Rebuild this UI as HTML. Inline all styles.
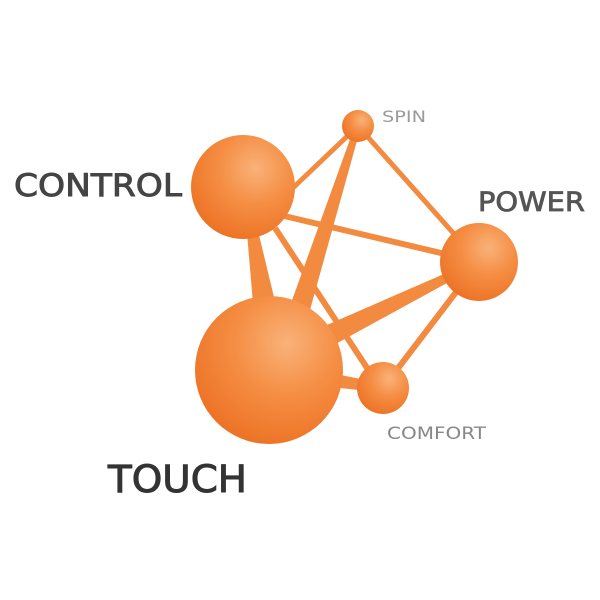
<!DOCTYPE html>
<html><head><meta charset="utf-8"><style>
html,body{margin:0;padding:0;background:#fff;}
svg{display:block}
text{font-family:"DejaVu Sans","Liberation Sans",sans-serif;}
</style></head><body>
<svg id="s" width="600" height="600" viewBox="0 0 600 600">
<defs>
<radialGradient id="g" cx="0.62" cy="0.32" r="0.75">
<stop offset="0" stop-color="#f9b27a"/>
<stop offset="0.45" stop-color="#f58f45"/>
<stop offset="1" stop-color="#ec7022"/>
</radialGradient>
</defs>
<g id="edges" fill="#f28a40"></g>
<circle cx="243" cy="187" r="52" fill="url(#g)"/>
<circle cx="358" cy="126" r="16" fill="url(#g)"/>
<circle cx="479" cy="262" r="39" fill="url(#g)"/>
<circle cx="383" cy="388" r="26" fill="url(#g)"/>
<circle cx="269" cy="370" r="74" fill="url(#g)"/>
<text x="14" y="196" font-size="31" fill="#444" stroke="#444" stroke-width="0.9" textLength="168" lengthAdjust="spacingAndGlyphs">CONTROL</text>
<text x="478" y="211" font-size="27" fill="#555" stroke="#555" stroke-width="0.8" textLength="107" lengthAdjust="spacingAndGlyphs">POWER</text>
<text x="108" y="492" font-size="37" fill="#333" stroke="#333" stroke-width="1" textLength="139" lengthAdjust="spacingAndGlyphs">TOUCH</text>
<text x="382" y="122" font-size="16" fill="#9a9a9a" textLength="44" lengthAdjust="spacingAndGlyphs">SPIN</text>
<text x="387" y="439" font-size="17" fill="#888" textLength="99" lengthAdjust="spacingAndGlyphs">COMFORT</text>
</svg>
<script>
var E=[
[275,205,358,126,5,5],
[280,215,479,262,6,6],
[358,126,479,262,5,5],
[358,126,293,330,6,22],
[247,198,266,315,6,24],
[275,228,375,380,6,6],
[479,262,320,340,6,22],
[479,262,383,388,6,6],
[330,380,383,388,14,9]
];
var g=document.getElementById('edges'),h='';
E.forEach(function(e){var dx=e[2]-e[0],dy=e[3]-e[1],L=Math.hypot(dx,dy),nx=-dy/L,ny=dx/L,a=e[4]/2,b=e[5]/2;
h+='<polygon points="'+(e[0]+nx*a)+','+(e[1]+ny*a)+' '+(e[2]+nx*b)+','+(e[3]+ny*b)+' '+(e[2]-nx*b)+','+(e[3]-ny*b)+' '+(e[0]-nx*a)+','+(e[1]-ny*a)+'"/>';});
g.innerHTML=h;
</script>
</body></html>
